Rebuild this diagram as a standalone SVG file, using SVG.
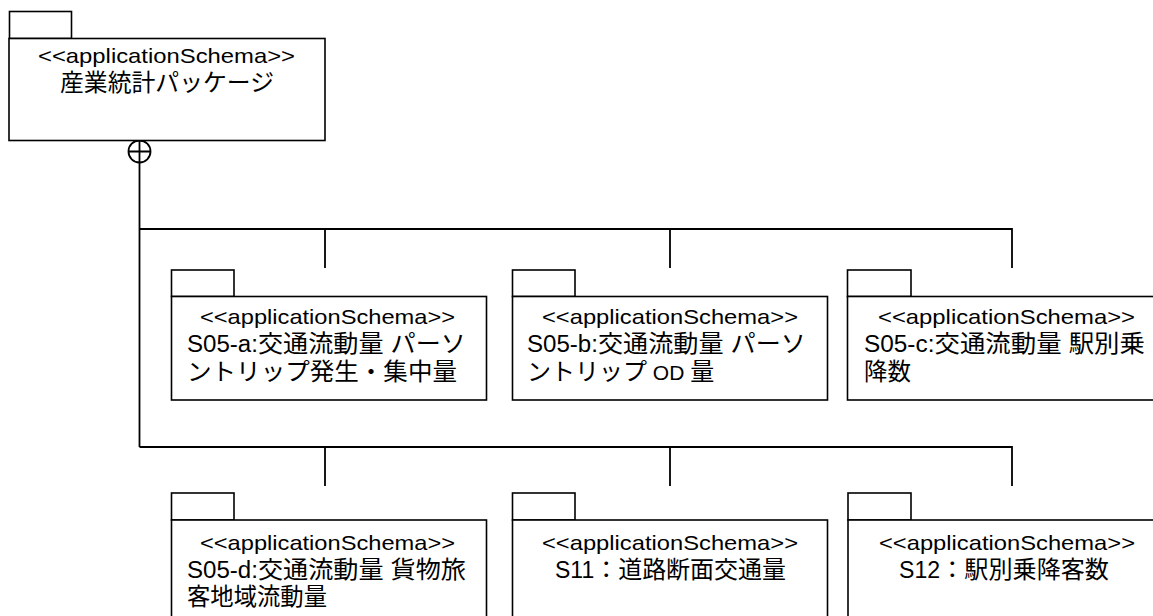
<svg xmlns="http://www.w3.org/2000/svg" width="1153" height="616" viewBox="0 0 1153 616">
<style>
.box{fill:#fff;stroke:#000;stroke-width:1.6}
.ln{fill:none;stroke:#000;stroke-width:1.8}
text{font-family:"Liberation Sans","Noto Sans CJK JP",sans-serif;font-size:21px;fill:#000}
.j{font-size:24px}
.l{font-size:23px}
</style>
<rect width="1153" height="616" fill="#fff"/>
<g id="connectors">
<circle cx="139.5" cy="151.5" r="11" class="ln"/>
<path class="ln" d="M128.5,151.5H150.5M139.5,140.5V447M139.5,229H1012V268M325,229V268M670,229V268M139.5,447H1012V486M325,447V486M670,447V486"/>
</g>
<g id="pkg-top">
<rect class="box" x="9.5" y="11.5" width="62" height="27"/>
<rect class="box" x="9" y="38.5" width="316" height="102"/>
<text x="38" y="63" textLength="257" lengthAdjust="spacingAndGlyphs">&lt;&lt;applicationSchema&gt;&gt;</text>
<text x="60" y="91" textLength="214" lengthAdjust="spacingAndGlyphs" class="j">産業統計パッケージ</text>
</g>
<g id="pkg-s05a">
<rect class="box" x="171.5" y="270" width="62.5" height="26.5"/>
<rect class="box" x="171.5" y="296.5" width="315" height="103.5"/>
<text x="200" y="324" textLength="255" lengthAdjust="spacingAndGlyphs">&lt;&lt;applicationSchema&gt;&gt;</text>
<text x="187" y="352" textLength="279" lengthAdjust="spacingAndGlyphs"><tspan class="l">S05-a:</tspan><tspan class="j">交通流動量 パーソ</tspan></text>
<text x="187" y="380" textLength="270" lengthAdjust="spacingAndGlyphs" class="j">ントリップ発生・集中量</text>
</g>
<g id="pkg-s05b">
<rect class="box" x="512.5" y="270" width="62.5" height="26.5"/>
<rect class="box" x="512.5" y="296.5" width="315" height="103.5"/>
<text x="542" y="324" textLength="256" lengthAdjust="spacingAndGlyphs">&lt;&lt;applicationSchema&gt;&gt;</text>
<text x="527" y="352" textLength="279" lengthAdjust="spacingAndGlyphs"><tspan class="l">S05-b:</tspan><tspan class="j">交通流動量 パーソ</tspan></text>
<text x="527" y="380" class="j">ントリップ<tspan font-size="21"> OD </tspan>量</text>
</g>
<g id="pkg-s05c">
<rect class="box" x="847.5" y="270" width="63.5" height="26.5"/>
<rect class="box" x="847.5" y="296.5" width="316" height="103.5"/>
<text x="878" y="324" textLength="257" lengthAdjust="spacingAndGlyphs">&lt;&lt;applicationSchema&gt;&gt;</text>
<text x="864" y="352" textLength="281" lengthAdjust="spacingAndGlyphs"><tspan class="l">S05-c:</tspan><tspan class="j">交通流動量 駅別乗</tspan></text>
<text x="864" y="380" textLength="47" lengthAdjust="spacingAndGlyphs" class="j">降数</text>
</g>
<g id="pkg-s05d">
<rect class="box" x="171.5" y="493" width="62.5" height="27"/>
<rect class="box" x="171.5" y="520" width="315" height="110"/>
<text x="200" y="550" textLength="255" lengthAdjust="spacingAndGlyphs">&lt;&lt;applicationSchema&gt;&gt;</text>
<text x="187" y="578" textLength="279" lengthAdjust="spacingAndGlyphs"><tspan class="l">S05-d:</tspan><tspan class="j">交通流動量 貨物旅</tspan></text>
<text x="187" y="605" textLength="140" lengthAdjust="spacingAndGlyphs" class="j">客地域流動量</text>
</g>
<g id="pkg-s11">
<rect class="box" x="512.5" y="493" width="62.5" height="27"/>
<rect class="box" x="512.5" y="520" width="315" height="110"/>
<text x="542" y="550" textLength="256" lengthAdjust="spacingAndGlyphs">&lt;&lt;applicationSchema&gt;&gt;</text>
<text x="555" y="578" textLength="231" lengthAdjust="spacingAndGlyphs"><tspan class="l">S11</tspan><tspan class="j">：道路断面交通量</tspan></text>
</g>
<g id="pkg-s12">
<rect class="box" x="848" y="493" width="63" height="27"/>
<rect class="box" x="848" y="520" width="316" height="110"/>
<text x="879" y="550" textLength="256" lengthAdjust="spacingAndGlyphs">&lt;&lt;applicationSchema&gt;&gt;</text>
<text x="899" y="578" textLength="210" lengthAdjust="spacingAndGlyphs"><tspan class="l">S12</tspan><tspan class="j">：駅別乗降客数</tspan></text>
</g>
</svg>
